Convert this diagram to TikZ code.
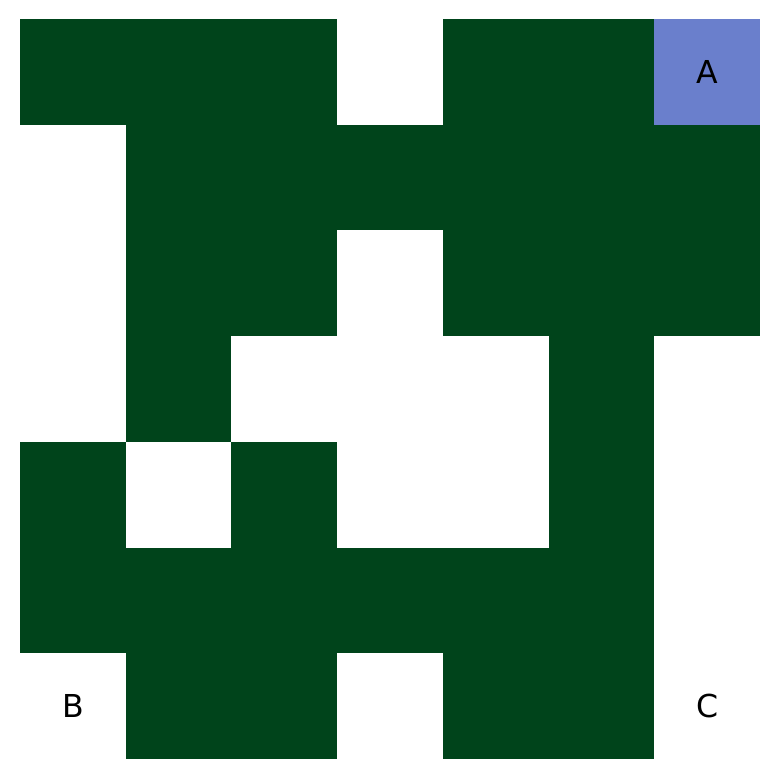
\documentclass[tikz,border=0pt]{standalone}
\usepackage{fontspec}
\setmainfont{DejaVu Sans}
\usepackage{tikz}

\definecolor{wall}{HTML}{00441B}
\definecolor{start}{HTML}{6A7FCC}

\begin{document}
\begin{tikzpicture}[every node/.style={font=\fontsize{8.5}{10}\selectfont},
	cell/.style={minimum size=1cm, inner sep=0pt, outer sep=0pt}]
	\useasboundingbox (-0.19,-0.19) rectangle (7.18,7.18);
	\foreach \r/\row in {0/{1,1,1,0,1,1,0}, 1/{0,1,1,1,1,1,1}, 2/{0,1,1,0,1,1,1}, 3/{0,1,0,0,0,1,0}, 4/{1,0,1,0,0,1,0}, 5/{1,1,1,1,1,1,0}, 6/{0,1,1,0,1,1,0}} {
		\foreach \v [count=\k from 0] in \row {
			\ifnum\v=1
				\node[cell, fill=wall] (c-\r-\k) at ({\k+0.5},{6.5-\r}) {};
			\fi
		}
	}
	\node[cell, fill=start] (A) at (6.5,6.5) {A};
	\node[cell] (B) at (0.5,0.5) {B};
	\node[cell] (C) at (6.5,0.5) {C};
\end{tikzpicture}
\end{document}
